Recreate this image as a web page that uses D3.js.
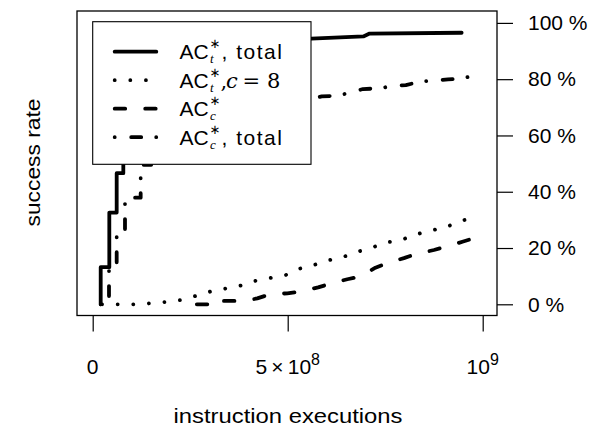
<!DOCTYPE html>
<html>
<head>
<meta charset="utf-8">
<script src="https://cdn.jsdelivr.net/npm/d3@7"></script>
<style>
  html, body { margin: 0; padding: 0; background: #fff; }
  svg { display: block; }
  text { font-family: "Liberation Sans", Arial, Helvetica, sans-serif; fill: #000; }
</style>
</head>
<body>
<svg id="chart" width="596" height="428"></svg>
<script>
// ---------------- data ----------------
const xTicks = [0, 5e8, 1e9];
const yTicks = [0, 20, 40, 60, 80, 100];

// AC_t*, total  (solid)
const acTotal = [
  [2.05e7, 0], [2.05e7, 13.2], [4.26e7, 13.2], [4.26e7, 32.6], [6.15e7, 32.6],
  [6.15e7, 46.6], [7.85e7, 46.6], [7.85e7, 62], [1.0e8, 62], [1.0e8, 76],
  [1.3e8, 76], [1.3e8, 85], [2.0e8, 88], [3.0e8, 91], [4.5e8, 93],
  [5.6e8, 94.4], [6.94e8, 95.2], [7.1e8, 96.2], [9.46e8, 96.5]
];
// AC_t*, c = 8  (dotted)
const acC8 = [
  [2.4e7, 0], [1.04e8, 0], [1.45e8, 0.3], [1.85e8, 0.8], [2.26e8, 1.5],
  [2.64e8, 2.95], [3.01e8, 4.5], [3.39e8, 5.55], [3.78e8, 6.6], [4.16e8, 8.3],
  [4.54e8, 9.3], [4.95e8, 10.4], [5.29e8, 12.6], [5.66e8, 13.9], [6.0e8, 15.5],
  [6.38e8, 16.6], [6.75e8, 18.5], [7.13e8, 20.0], [7.5e8, 21.9], [7.9e8, 22.8],
  [8.26e8, 24.7], [8.63e8, 26.1], [9.02e8, 27.2], [9.37e8, 29.3], [9.74e8, 30.8],
  [9.9e8, 31.3]
];
// AC_c*  (dashed)
const acC = [
  [2.67e8, 0], [3.19e8, 0], [3.19e8, 1.2], [3.9e8, 1.2], [4.22e8, 2.1],
  [4.55e8, 3.6], [4.99e8, 3.9], [5.33e8, 4.5], [5.78e8, 6.0], [6.13e8, 7.5],
  [6.53e8, 8.9], [6.85e8, 9.8], [7.25e8, 13.0], [7.54e8, 14.6], [7.98e8, 16.4],
  [8.28e8, 17.8], [8.75e8, 19.3], [9.06e8, 20.5], [9.5e8, 22.3], [9.85e8, 23.8]
];
// AC_c*, total  (dot-dash)
const acCTotal = [
  [2.05e7, 0], [4.18e7, 0], [4.18e7, 12.2], [6.15e7, 12.2], [6.15e7, 26.2],
  [8.28e7, 26.2], [8.28e7, 37.9], [1.23e8, 37.9], [1.23e8, 49.6], [1.5e8, 49.6],
  [1.5e8, 58], [2.0e8, 63], [3.0e8, 67], [4.5e8, 71], [5.62e8, 73.1],
  [5.87e8, 73.9], [6.26e8, 74.1], [6.6e8, 75.2], [6.93e8, 76.5], [7.31e8, 76.7],
  [7.67e8, 77.5], [8.03e8, 77.9], [8.39e8, 79.1], [8.75e8, 79.5], [9.11e8, 79.9],
  [9.49e8, 80.3], [9.9e8, 81.7]
];

const seriesNames = ["total", "c8", "c", "ctotal"];

// ---------------- styles ----------------
const LW = 3.8;
const styles = {
  total:  { dash: null },
  c8:     { dash: "0.01,15.6" },
  c:      { dash: "10.5,20" },
  ctotal: { dash: "0.01,16.5,10,15" }
};

// ---------------- layout ----------------
const svg = d3.select("#chart");
const box = { left: 77, top: 11, right: 497, bottom: 315.5 };

const x = d3.scaleLinear().domain([0, 1e9]).range([92.7, 482.7]);
const y = d3.scaleLinear().domain([0, 100]).range([304.3, 22.9]);

const line = d3.line().x(d => x(d[0])).y(d => y(d[1]));
const data = { total: acTotal, c8: acC8, c: acC, ctotal: acCTotal };

const gLines = svg.append("g");
seriesNames.forEach(k => {
  gLines.append("path")
    .attr("d", line(data[k]))
    .attr("fill", "none")
    .attr("stroke", "#000")
    .attr("stroke-width", LW)
    .attr("stroke-linecap", "round")
    .attr("stroke-linejoin", "round")
    .attr("stroke-dasharray", styles[k].dash);
});

// plot box
svg.append("rect")
  .attr("x", box.left).attr("y", box.top)
  .attr("width", box.right - box.left).attr("height", box.bottom - box.top)
  .attr("fill", "none").attr("stroke", "#000").attr("stroke-width", 1.3);

// x axis
const xAxis = d3.axisBottom(x).tickValues(xTicks).tickSize(16).tickSizeOuter(0).tickFormat("");
const gx = svg.append("g").attr("transform", `translate(0,${box.bottom})`).call(xAxis);
gx.select(".domain").remove();
gx.selectAll(".tick line").attr("stroke-width", 1.2);

const FS = 21;
const xl = svg.append("g").attr("font-size", FS).attr("text-anchor", "middle");
xl.append("text").attr("x", x(xTicks[0])).attr("y", 374).text("0");
const t5 = xl.append("text").attr("x", x(xTicks[1])).attr("y", 374);
t5.append("tspan").text("5\u2009\u00d7\u200910");
t5.append("tspan").attr("dy", -9).attr("font-size", 16).text("8");
const t9 = xl.append("text").attr("x", x(xTicks[2])).attr("y", 374);
t9.append("tspan").text("10");
t9.append("tspan").attr("dy", -9).attr("font-size", 16).text("9");

// y axis (right)
const yAxis = d3.axisRight(y).tickValues(yTicks).tickSize(16).tickPadding(15)
  .tickFormat(d => d + " %");
const gy = svg.append("g").attr("transform", `translate(${box.right},0)`).call(yAxis);
gy.select(".domain").remove();
gy.selectAll(".tick line").attr("stroke-width", 1.2);
gy.selectAll(".tick text")
  .attr("font-size", FS)
  .attr("font-family", "Liberation Sans, Arial, sans-serif")
  .attr("fill", "#000");

// axis titles
svg.append("text").attr("x", 288).attr("y", 423).attr("text-anchor", "middle")
  .attr("font-size", 19.5).attr("textLength", 229).attr("lengthAdjust", "spacingAndGlyphs")
  .text("instruction executions");
svg.append("text").attr("transform", "translate(40,162.5) rotate(-90)")
  .attr("text-anchor", "middle").attr("font-size", 19.5)
  .attr("textLength", 128).attr("lengthAdjust", "spacingAndGlyphs")
  .text("success rate");

// ---------------- legend ----------------
const lg = svg.append("g");
lg.append("rect").attr("x", 92.7).attr("y", 21.7).attr("width", 311 - 92.7).attr("height", 164.3 - 21.7)
  .attr("fill", "#fff").attr("stroke", "#000").attr("stroke-width", 1.1);

const legendRows = [
  { key: "total",  sub: "t", rest: "total" },
  { key: "c8",     sub: "t", rest: "c8" },
  { key: "c",      sub: "c", rest: null },
  { key: "ctotal", sub: "c", rest: "total" }
];
const rowY0 = 51.7, rowDY = 28.5;
legendRows.forEach((r, i) => {
  const cy = rowY0 + i * rowDY;
  lg.append("line").attr("x1", 114.7).attr("x2", 156.3).attr("y1", cy).attr("y2", cy)
    .attr("stroke", "#000").attr("stroke-width", LW).attr("stroke-linecap", "round")
    .attr("stroke-dasharray", styles[r.key].dash);
  const base = cy + 7.6;
  const t = lg.append("text").attr("x", 179.5).attr("y", base).attr("font-size", 21);
  t.append("tspan").text("AC");
  t.append("tspan").attr("x", 209.5).attr("y", base - 11).attr("font-size", 13)
    .attr("font-family", "DejaVu Sans, sans-serif").text("\u2217");
  t.append("tspan").attr("x", 210).attr("y", base + 4).attr("font-size", 13)
    .attr("font-family", "Liberation Serif, serif").attr("font-style", "italic").text(r.sub);
  if (r.rest === "total") {
    t.append("tspan").attr("x", 221.5).attr("y", base).attr("font-size", 21)
      .attr("letter-spacing", 1.5).text(", total");
  } else if (r.rest === "c8") {
    const serif = "DejaVu Serif, serif";
    t.append("tspan").attr("x", 220.5).attr("y", base).attr("font-family", serif).text(",");
    t.append("tspan").attr("x", 226).attr("y", base).attr("font-family", serif)
      .attr("font-style", "italic").text("c");
    t.append("tspan").attr("x", 242.5).attr("y", base).attr("font-family", serif).text("=");
    t.append("tspan").attr("x", 267).attr("y", base).attr("font-family", serif).text("8");
  }
});
</script>
</body>
</html>
